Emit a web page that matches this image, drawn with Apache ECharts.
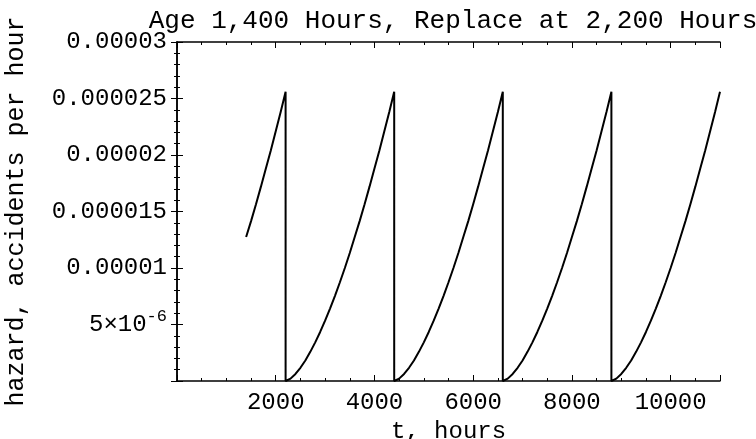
<!DOCTYPE html>
<html>
<head>
<meta charset="utf-8">
<script src="https://cdn.jsdelivr.net/npm/echarts@6/dist/echarts.min.js"></script>
<style>
html,body{margin:0;padding:0;background:#fff;}
#chart{width:756px;height:439px;}
</style>
</head>
<body>
<div id="chart"></div>
<script>
// Hazard profile over one replacement cycle (age in hours -> hazard, in 1e-6 accidents/hour)
const cycleAges   = [0,100,200,300,400,500,600,700,800,900,1000,1100,1200,1300,1400,1500,1600,1700,1800,1900,2000,2100,2200];
const cycleHazard = [0,0.21,0.62,1.17,1.82,2.58,3.42,4.34,5.34,6.41,7.54,8.74,10.0,11.33,12.75,14.15,15.65,17.2,18.8,20.4,22.1,23.8,25.6];
const startAge = 1400;                         // unit is 1,400 hours old at t = 1400
const replaceTimes = [2200, 4400, 6600, 8800]; // replacement every 2,200 hours
const xTickValues = [2000, 4000, 6000, 8000, 10000];
const yTickLabels = ['', '5×10^-6', '0.00001', '0.000015', '0.00002', '0.000025', '0.00003'];
const titleText = 'Age 1,400 Hours, Replace at 2,200 Hours';
const xName = 't, hours';
const yName = 'hazard, accidents per hour';

// Build the line from the profile
const pts = [];
cycleAges.forEach((a, i) => { if (a >= startAge) pts.push([a, cycleHazard[i] * 1e-6]); });
replaceTimes.forEach(T => {
  cycleAges.forEach((a, i) => pts.push([T + a, cycleHazard[i] * 1e-6]));
});

const FONT = '"Liberation Mono", "DejaVu Sans Mono", monospace';
const chart = echarts.init(document.getElementById('chart'));

function yLabel(v) {
  const idx = Math.round(v / 5e-6);
  const s = yTickLabels[idx] || '';
  if (s.indexOf('^') >= 0) {
    const p = s.split('^');
    return '{b|' + p[0] + '}{s|' + p[1] + '}';
  }
  return s;
}

const axisLine = { show: true, lineStyle: { color: '#000', width: 1.5 } };

chart.setOption({
  animation: false,
  backgroundColor: '#fff',
  title: {
    text: titleText,
    left: 448, top: 3, textAlign: 'center',
    textStyle: { fontFamily: FONT, fontSize: 26, fontWeight: 'normal', color: '#000' }
  },
  grid: { left: 177, right: 36, top: 42, bottom: 58, containLabel: false, outerBoundsMode: 'none' },
  xAxis: [
    { type: 'value', min: 0, max: 11000, interval: 2000, position: 'bottom',
      name: xName, nameLocation: 'middle', nameGap: 35,
      nameTextStyle: { fontFamily: FONT, fontSize: 24, color: '#000' },
      axisLine: axisLine,
      axisTick: { show: true, inside: true, length: 6, lineStyle: { color: '#000', width: 1 } },
      axisLabel: { show: true, margin: 10, fontFamily: FONT, fontSize: 24, color: '#000',
        formatter: v => (xTickValues.indexOf(v) >= 0 ? String(v) : '') },
      splitLine: { show: false } },
    { type: 'value', min: 0, max: 11000, interval: 500, position: 'bottom',
      axisLine: { show: false },
      axisTick: { show: true, inside: true, length: 3, lineStyle: { color: '#000', width: 1 } },
      axisLabel: { show: false }, splitLine: { show: false } },
    { type: 'value', min: 0, max: 11000, interval: 2000, position: 'top',
      axisLine: axisLine,
      axisTick: { show: true, inside: true, length: 6, lineStyle: { color: '#000', width: 1 } },
      axisLabel: { show: false }, splitLine: { show: false } },
    { type: 'value', min: 0, max: 11000, interval: 500, position: 'top',
      axisLine: { show: false },
      axisTick: { show: true, inside: true, length: 3, lineStyle: { color: '#000', width: 1 } },
      axisLabel: { show: false }, splitLine: { show: false } }
  ],
  yAxis: [
    { type: 'value', min: 0, max: 3e-5, interval: 5e-6, position: 'left',
      name: yName, nameLocation: 'middle', nameGap: 148, nameRotate: 90,
      nameTextStyle: { fontFamily: FONT, fontSize: 25, color: '#000' },
      axisLine: axisLine,
      axisTick: { show: true, inside: true, length: 6, lineStyle: { color: '#000', width: 1 } },
      minorTick: { show: true, splitNumber: 5, length: 3, lineStyle: { color: '#000', width: 1 } },
      axisLabel: { show: true, margin: 10, fontFamily: FONT, fontSize: 24, color: '#000',
        formatter: yLabel,
        rich: {
          b: { fontFamily: FONT, fontSize: 24, color: '#000' },
          s: { fontFamily: FONT, fontSize: 17, color: '#000', verticalAlign: 'top', padding: [0, 0, 16, 0] }
        } },
      splitLine: { show: false } },
    { type: 'value', min: 0, max: 3e-5, interval: 5e-6, position: 'right',
      axisLine: axisLine,
      axisTick: { show: true, inside: true, length: 6, lineStyle: { color: '#000', width: 1 } },
      minorTick: { show: true, splitNumber: 5, length: 3, lineStyle: { color: '#000', width: 1 } },
      axisLabel: { show: false }, splitLine: { show: false } }
  ],
  series: [{
    type: 'line', xAxisIndex: 0, yAxisIndex: 0,
    data: pts, showSymbol: false, smooth: false, clip: true,
    lineStyle: { color: '#000', width: 2 }
  }]
});
</script>
</body>
</html>
